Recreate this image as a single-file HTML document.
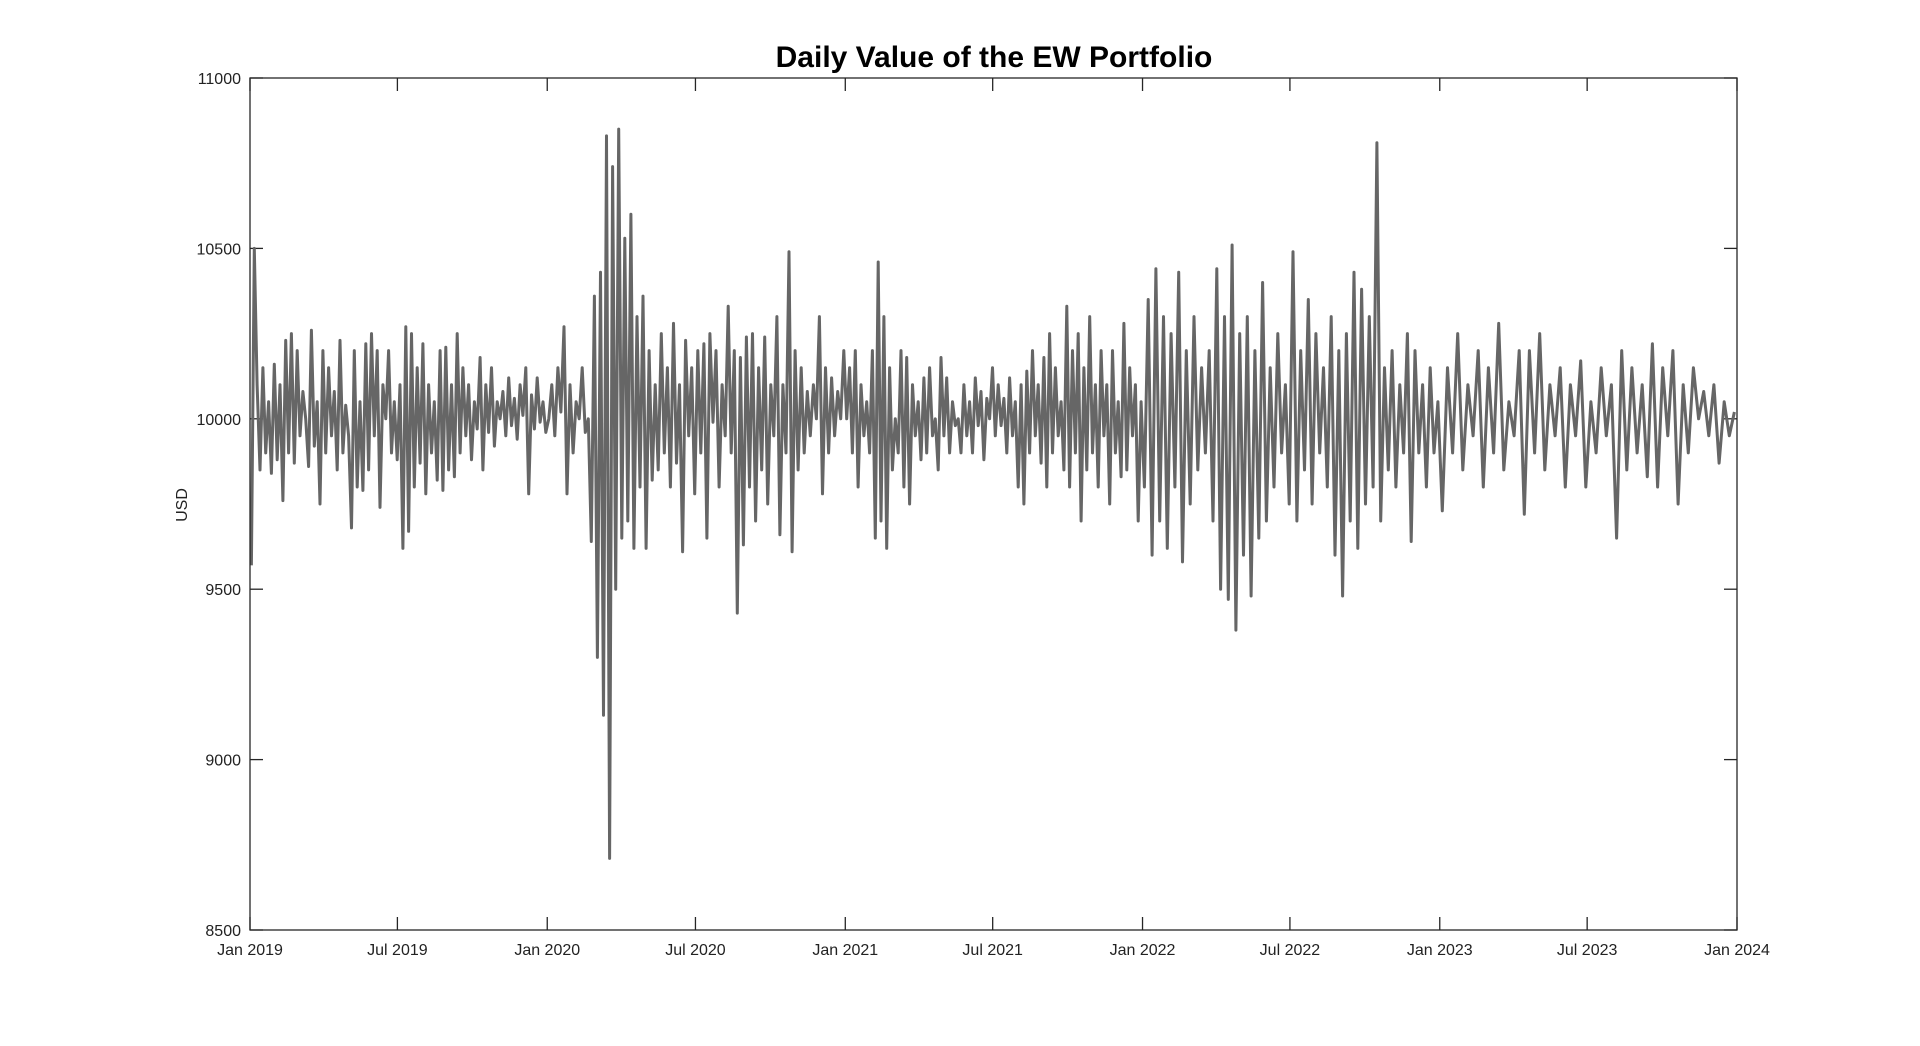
<!DOCTYPE html>
<html><head><meta charset="utf-8"><style>
html,body{margin:0;padding:0;background:#fff;}
svg{display:block;font-family:"Liberation Sans",Arial,sans-serif;}
</style></head><body>
<svg id="chart" width="1920" height="1046" viewBox="0 0 1920 1046" xmlns="http://www.w3.org/2000/svg">
<rect width="1920" height="1046" fill="#fff"/>
<text x="994" y="67" text-anchor="middle" font-size="30" font-weight="bold" fill="#000">Daily Value of the EW Portfolio</text>
<text transform="translate(187,505) rotate(-90)" text-anchor="middle" font-size="16" fill="#222">USD</text>
<g id="ticks"></g>
<path id="series" fill="none" stroke="#666" stroke-width="3" stroke-linejoin="round"/>
<rect x="250" y="78" width="1487" height="852" fill="none" stroke="#262626" stroke-width="1.3"/>
</svg>
<script>
const yTicks=[8500,9000,9500,10000,10500,11000];
const xTickLabels=["Jan 2019","Jul 2019","Jan 2020","Jul 2020","Jan 2021","Jul 2021","Jan 2022","Jul 2022","Jan 2023","Jul 2023","Jan 2024"];
const years=[2019,2020,2021,2022,2023];
const values2019=[9570,10500,10100,9850,10150,9900,10050,9840,10160,9880,10100,9760,10230,9900,10250,9870,10200,9950,10080,10000,9860,10260,9920,10050,9750,10200,9900,10150,9950,10080,9850,10230,9900,10040,9950,9680,10200,9800,10050,9790,10220,9850,10250,9950,10200,9740,10100,10000,10200,9900,10050,9880,10100,9620,10270,9670,10250,9800,10150,9870,10220,9780,10100,9900,10050,9820,10200,9790,10210,9850,10100,9830,10250,9900,10150,9950,10100,9880,10050,9970,10180,9850,10100,9960,10150,9920,10050,10000,10080,9950,10120,9980,10060,9940,10100,10010,10150,9780,10070,9970,10120,9990,10050,9960];
const values2020=[10000,10100,9950,10150,10020,10270,9780,10100,9900,10050,10000,10150,9960,10000,9640,10360,9300,10430,9130,10830,8710,10740,9500,10850,9650,10530,9700,10600,9620,10300,9800,10360,9620,10200,9820,10100,9850,10250,9900,10150,9800,10280,9870,10100,9610,10230,9950,10150,9780,10200,9900,10220,9650,10250,9990,10200,9800,10100,9950,10330,9900,10200,9430,10180,9630,10240,9800,10250,9700,10150,9850,10240,9750,10100,9950,10300,9660,10100,9900,10490,9610,10200,9850,10150,9900,10080,9950,10100,10000,10300,9780,10150,9900,10120,9950,10080,10000,10200];
const values2021=[10000,10150,9900,10200,9800,10100,9950,10050,9900,10200,9650,10460,9700,10300,9620,10150,9850,10000,9900,10200,9800,10180,9750,10100,9950,10050,9880,10120,9900,10150,9950,10000,9850,10180,9950,10120,9900,10050,9980,10000,9900,10100,9950,10050,9900,10120,9980,10080,9880,10060,10000,10150,9950,10100,9980,10060,9900,10120,9950,10050,9800,10100,9750,10140,9900,10200,9950,10100,9870,10180,9800,10250,9900,10150,9950,10050,9850,10330,9800,10200,9900,10250,9700,10150,9850,10300,9900,10100,9800,10200,9950,10100,9750,10200,9900,10050,9830,10280,9850,10150,9950,10100,9700,10050];
const values2022=[9800,10350,9600,10440,9700,10300,9620,10250,9800,10430,9580,10200,9750,10300,9850,10150,9900,10200,9700,10440,9500,10300,9470,10510,9380,10250,9600,10300,9480,10200,9650,10400,9700,10150,9800,10250,9900,10100,9750,10490,9700,10200,9850,10350,9750,10250,9900,10150,9800,10300,9600,10200,9480,10250,9700,10430,9620,10380,9750,10300,9800,10810,9700,10150,9850,10200,9800,10100,9900,10250,9640,10200,9900,10100,9800,10150,9900,10050];
const values2023=[9730,10150,9900,10250,9850,10100,9950,10200,9800,10150,9900,10280,9850,10050,9950,10200,9720,10200,9900,10250,9850,10100,9950,10150,9800,10100,9950,10170,9800,10050,9900,10150,9950,10100,9650,10200,9850,10150,9900,10100,9830,10220,9800,10150,9950,10200,9750,10100,9900,10150,10000,10080,9950,10100,9870,10050,9950,10020];
const seriesByYear=[values2019,values2020,values2021,values2022,values2023];

const L=250,R=1737,T=78,B=930;
const yMin=8500,yMax=11000;
const t0=Date.UTC(2019,0,1),t1=Date.UTC(2024,0,1);
function xScale(t){return L+(t-t0)/(t1-t0)*(R-L);}
function yScale(v){return B-(v-yMin)/(yMax-yMin)*(B-T);}
const NS="http://www.w3.org/2000/svg";
const g=document.getElementById('ticks');
function mk(tag,attrs){const e=document.createElementNS(NS,tag);for(const k in attrs)e.setAttribute(k,attrs[k]);return e;}
yTicks.forEach(v=>{
  const y=yScale(v);
  const a=mk('line',{x1:L,x2:L+13,y1:y,y2:y,stroke:'#262626','stroke-width':1.3});
  
  
  g.appendChild(a);
  const b=mk('line',{x1:R-13,x2:R,y1:y,y2:y,stroke:'#262626','stroke-width':1.3});
  
  
  g.appendChild(b);
  const tx=mk('text',{x:L-9,y:y+6,'text-anchor':'end','font-size':16,fill:'#222'});
  tx.textContent=v;
  
  
  g.appendChild(tx);
});
xTickLabels.forEach((lab,i)=>{
  const yr=2019+Math.floor(i/2),mo=(i%2)*6;
  const x=xScale(Date.UTC(yr,mo,1));
  const a=mk('line',{x1:x,x2:x,y1:B,y2:B-13,stroke:'#262626','stroke-width':1.3});
  
  
  g.appendChild(a);
  const b=mk('line',{x1:x,x2:x,y1:T,y2:T+13,stroke:'#262626','stroke-width':1.3});
  
  
  g.appendChild(b);
  const tx=mk('text',{x:x,y:B+25,'text-anchor':'middle','font-size':16,fill:'#222'});
  tx.textContent=lab;
  
  
  g.appendChild(tx);
});
let d='';
seriesByYear.forEach((arr,yi)=>{
  const ys=Date.UTC(years[yi],0,1),ye=Date.UTC(years[yi]+1,0,1);
  arr.forEach((v,i)=>{
    const t=ys+(i+0.5)/arr.length*(ye-ys);
    d+=(d?'L':'M')+xScale(t).toFixed(1)+','+yScale(v).toFixed(1);
  });
});
document.getElementById('series').setAttribute('d',d);
</script>
</body></html>
